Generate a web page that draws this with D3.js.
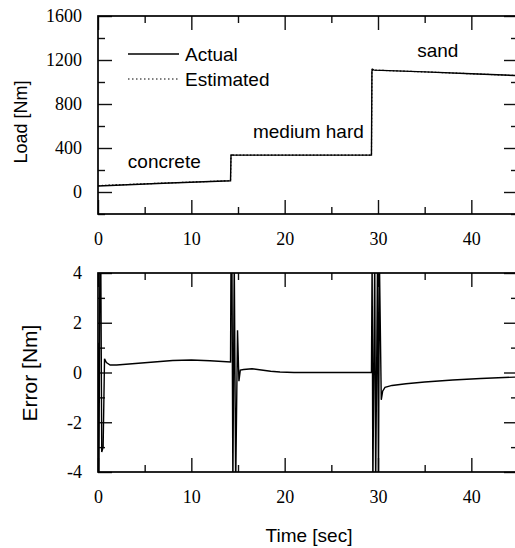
<!DOCTYPE html>
<html>
<head>
<meta charset="utf-8">
<script src="https://cdn.jsdelivr.net/npm/d3@7"></script>
<style>
  body { margin: 0; background: #fff; }
  svg { display: block; }
</style>
</head>
<body>
<div id="my_dataviz"></div>
<script>
// load plot data
var loadTime   = [0, 7, 14.2, 14.25, 14.35, 14.5, 29.3, 29.35, 29.45, 29.6, 35, 40, 45];
var loadActual = [55, 80, 102, 330, 336, 335, 335, 1100, 1112, 1108, 1092, 1075, 1058];
var loadEst    = [58, 81, 103, 345, 338, 335, 335, 1130, 1114, 1108, 1092, 1075, 1058];

// error plot data
var errTime = [0, 0.1, 0.2, 0.3, 0.4, 0.55, 0.7, 0.9, 1.3, 2, 4, 6, 8, 10, 12, 14.2,
  14.25, 14.35, 14.45, 14.6, 14.75, 14.95, 15.1, 15.25, 15.6, 16.5, 17.5, 18.5, 19.5, 21, 29.3,
  29.37, 29.45, 29.65, 29.75, 29.95, 30.05, 30.15, 30.35, 30.5, 30.75, 31.5, 33, 35, 38, 41, 45];
var errValue = [1.2, -4.6, 4.6, 4.6, -3.2, -3.0, 0.55, 0.4, 0.3, 0.3, 0.36, 0.42, 0.48, 0.5, 0.47, 0.42,
  4.6, 4.6, -4.6, 4.6, -4.6, 1.7, -0.35, 0.1, 0.12, 0.15, 0.1, 0.05, 0.02, 0, 0,
  4.6, -4.6, 4.6, -4.6, 4.6, -4.6, 4.6, -1.1, -0.75, -0.6, -0.52, -0.45, -0.38, -0.3, -0.24, -0.18];

// ticks and labels
var timeMajor = [0, 10, 20, 30, 40];
var timeMinor = [5, 15, 25, 35, 45];
var loadMajor = [0, 400, 800, 1200, 1600];
var loadMinor = [-200, 200, 600, 1000, 1400];
var errMajor = [-4, -2, 0, 2, 4];
var errMinor = [-3, -1, 1, 3];
var materials = [
  {name: "concrete", t: 3.2, v: 220},
  {name: "medium hard", t: 16.6, v: 490},
  {name: "sand", t: 34.2, v: 1230}
];
var legendNames = ["Actual", "Estimated"];

var serif = "Times New Roman, Liberation Serif, serif";
var sans = "Arial, Liberation Sans, sans-serif";

var svg = d3.select("#my_dataviz")
  .append("svg")
    .attr("width", 515)
    .attr("height", 548);

var x = d3.scaleLinear().domain([0, 45]).range([98, 518]);
var yLoad = d3.scaleLinear().domain([-200, 1600]).range([214, 16]);
var yErr = d3.scaleLinear().domain([-4, 4]).range([472, 273]);

// plain hyphen for negatives, like the original
function fmt(d) { return String(d); }

function drawFrame(y, yMajor, yMinor) {
  var top = y.range()[1], bottom = y.range()[0];
  var g = svg.append("g");

  // bottom axis with labels, ticks pointing up
  g.append("g")
    .attr("transform", "translate(0," + bottom + ")")
    .call(d3.axisBottom(x).tickValues(timeMajor).tickSize(-14).tickPadding(18).tickFormat(fmt));
  g.append("g")
    .attr("transform", "translate(0," + bottom + ")")
    .call(d3.axisBottom(x).tickValues(timeMinor).tickSize(-7).tickFormat(""));
  // top axis, ticks pointing down
  g.append("g")
    .attr("transform", "translate(0," + top + ")")
    .call(d3.axisTop(x).tickValues(timeMajor).tickSize(-14).tickFormat(""));
  g.append("g")
    .attr("transform", "translate(0," + top + ")")
    .call(d3.axisTop(x).tickValues(timeMinor).tickSize(-7).tickFormat(""));
  // left axis with labels
  g.append("g")
    .attr("transform", "translate(98,0)")
    .call(d3.axisLeft(y).tickValues(yMajor).tickSize(-14).tickPadding(16).tickFormat(fmt));
  g.append("g")
    .attr("transform", "translate(98,0)")
    .call(d3.axisLeft(y).tickValues(yMinor).tickSize(-7).tickFormat(""));
  // right axis
  g.append("g")
    .attr("transform", "translate(518,0)")
    .call(d3.axisRight(y).tickValues(yMajor).tickSize(-14).tickFormat(""));
  g.append("g")
    .attr("transform", "translate(518,0)")
    .call(d3.axisRight(y).tickValues(yMinor).tickSize(-7).tickFormat(""));

  g.selectAll(".domain").remove();
  g.selectAll("g").attr("font-family", serif).attr("font-size", 18);
  g.selectAll(".tick line").attr("stroke", "#111").attr("stroke-width", 1.4);
  g.selectAll(".tick text").attr("fill", "#000");

  g.append("rect")
    .attr("x", 98).attr("y", top)
    .attr("width", 420).attr("height", bottom - top)
    .attr("fill", "none")
    .attr("stroke", "#000")
    .attr("stroke-width", 1.7);
  return g;
}

drawFrame(yLoad, loadMajor, loadMinor);
drawFrame(yErr, errMajor, errMinor);

// clip paths
svg.append("clipPath").attr("id", "clipLoad")
  .append("rect").attr("x", 98).attr("y", 16).attr("width", 420).attr("height", 198);
svg.append("clipPath").attr("id", "clipErr")
  .append("rect").attr("x", 98).attr("y", 273).attr("width", 420).attr("height", 199);

// load lines
var loadLine = d3.line()
  .x(function(d, i) { return x(loadTime[i]); })
  .y(function(d) { return yLoad(d); });

svg.append("path")
  .datum(loadEst)
  .attr("clip-path", "url(#clipLoad)")
  .attr("fill", "none")
  .attr("stroke", "#000")
  .attr("stroke-width", 1.2)
  .attr("stroke-dasharray", "1.5,2")
  .attr("d", loadLine);

svg.append("path")
  .datum(loadActual)
  .attr("clip-path", "url(#clipLoad)")
  .attr("fill", "none")
  .attr("stroke", "#000")
  .attr("stroke-width", 1.4)
  .attr("d", loadLine);

// error line
svg.append("path")
  .datum(errValue)
  .attr("clip-path", "url(#clipErr)")
  .attr("fill", "none")
  .attr("stroke", "#000")
  .attr("stroke-width", 1.4)
  .attr("d", d3.line()
    .x(function(d, i) { return x(errTime[i]); })
    .y(function(d) { return yErr(d); }));

// legend
var legend = svg.append("g");
legendNames.forEach(function(name, i) {
  var ly = 54 + i * 25;
  legend.append("line")
    .attr("x1", 128).attr("x2", 179)
    .attr("y1", ly).attr("y2", ly)
    .attr("stroke", "#000")
    .attr("stroke-width", i == 0 ? 1.6 : 1.1)
    .attr("stroke-dasharray", i == 0 ? null : "1.5,2.5");
  legend.append("text")
    .attr("x", 185).attr("y", ly + 6.5)
    .attr("font-family", sans)
    .attr("font-size", 19)
    .text(name);
});

// material labels
svg.selectAll(".material")
  .data(materials)
  .enter().append("text")
    .attr("class", "material")
    .attr("x", function(d) { return x(d.t); })
    .attr("y", function(d) { return yLoad(d.v); })
    .attr("font-family", sans)
    .attr("font-size", 19)
    .text(function(d) { return d.name; });

// axis titles
svg.append("text")
  .attr("transform", "translate(21,122) rotate(-90)")
  .attr("dy", "0.35em")
  .attr("text-anchor", "middle")
  .attr("font-family", sans)
  .attr("font-size", 18)
  .text("Load [Nm]");

svg.append("text")
  .attr("transform", "translate(30,373) rotate(-90)")
  .attr("dy", "0.35em")
  .attr("text-anchor", "middle")
  .attr("font-family", sans)
  .attr("font-size", 21)
  .text("Error [Nm]");

svg.append("text")
  .attr("x", 309).attr("y", 542)
  .attr("text-anchor", "middle")
  .attr("font-family", sans)
  .attr("font-size", 19)
  .text("Time [sec]");
</script>
</body>
</html>
